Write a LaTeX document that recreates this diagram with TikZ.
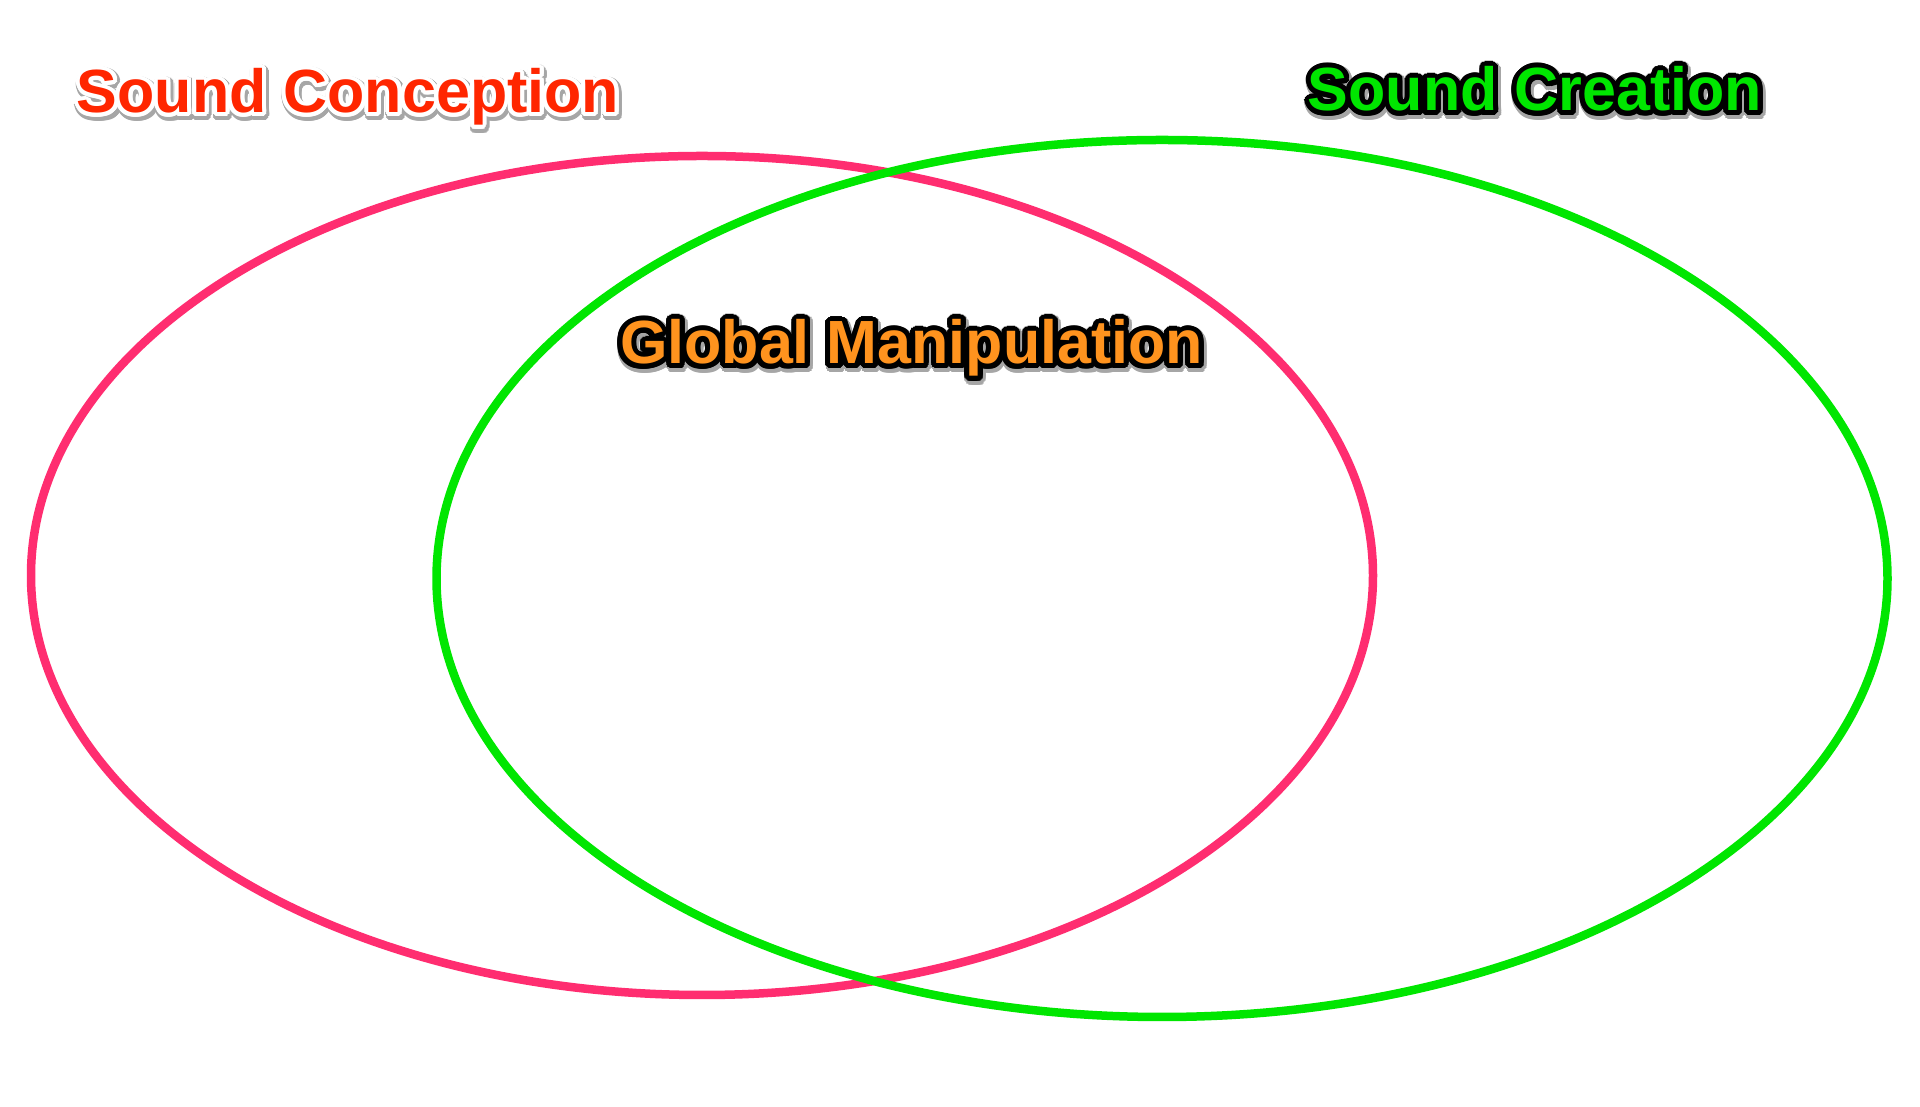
\documentclass[tikz,border=0pt]{standalone}
\usepackage{fontspec}
\setmainfont{Liberation Sans}
\definecolor{ringpink}{RGB}{255,45,112}
\definecolor{ringgreen}{RGB}{0,230,0}
\definecolor{txtred}{RGB}{255,38,0}
\definecolor{txtgreen}{RGB}{0,230,0}
\definecolor{txtorange}{RGB}{255,147,30}
\tikzset{
  lbl/.style={inner sep=0pt, anchor=base, font=\fontsize{61}{70}\selectfont\bfseries},
  ring/.style={line width=8.5pt}
}
\newcommand\fancytext[7]{%
  \foreach \a in {0,15,...,345}{\path (#1) ++(1.5,-2.5) ++(\a:{#5+1.5}) node[lbl,text=#6]{#7};}%
  \foreach \a in {0,15,...,345}{\path (#1) ++(\a:#5) node[lbl,text=#4]{#7};}%
  \node[lbl,text=#3] (#2) at (#1) {#7};%
}
\begin{document}
\begin{tikzpicture}[x=1pt,y=1pt]
  \useasboundingbox[fill=white] (0,0) rectangle (1920,1107);
  \draw[ring, ringpink] (702,531.5) ellipse [x radius=671, y radius=419.5];
  \draw[ring, ringgreen] (1162,528.5) ellipse [x radius=725.5, y radius=438.5];
  \coordinate (pconc) at (348,994);
  \coordinate (pglob) at (911.5,743);
  \coordinate (pcrea) at (1535,996);
  \fancytext{pconc}{conc}{txtred}{white}{4}{black!35}{Sound Conception}
  \fancytext{pglob}{glob}{txtorange}{black}{5}{black!35}{Global Manipulation}
  \fancytext{pcrea}{crea}{txtgreen}{black}{5}{black!35}{Sound Creation}
\end{tikzpicture}
\end{document}
